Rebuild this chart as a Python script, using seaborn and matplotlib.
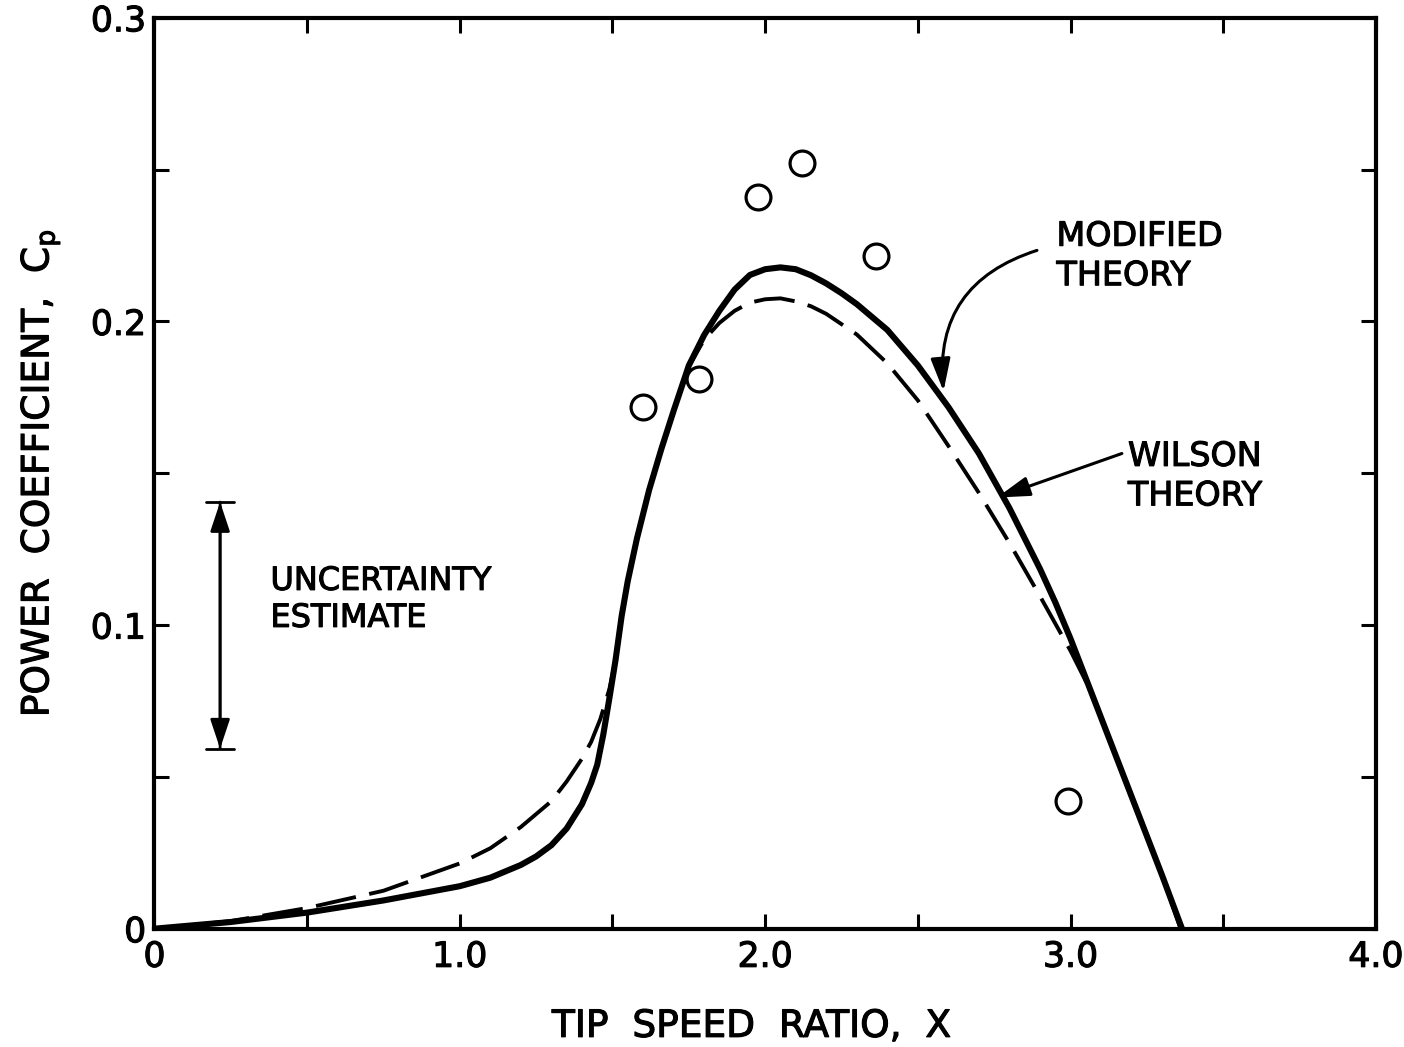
import matplotlib
matplotlib.use("Agg")
import matplotlib.pyplot as plt
import matplotlib.patheffects as pe
import seaborn as sns
import pandas as pd
from matplotlib.ticker import FixedLocator, FixedFormatter

# ---- data ----
x_modified = [0, 0.25, 0.5, 0.75, 1.0, 1.1, 1.2, 1.25, 1.3, 1.35, 1.4, 1.43, 1.45, 1.47,
              1.49, 1.51, 1.53, 1.55, 1.58, 1.62, 1.66, 1.7, 1.75, 1.8, 1.85, 1.9, 1.95,
              2.0, 2.05, 2.1, 2.15, 2.2, 2.25, 2.3, 2.4, 2.5, 2.6, 2.7, 2.8, 2.9, 2.95,
              3.0, 3.05, 3.1, 3.2, 3.3, 3.365]
cp_modified = [0, 0.0022, 0.0053, 0.0093, 0.014, 0.0168, 0.021, 0.0238, 0.0275, 0.033,
               0.041, 0.048, 0.054, 0.064, 0.076, 0.0885, 0.103, 0.1145, 0.1285, 0.1445,
               0.158, 0.1705, 0.1855, 0.1955, 0.2035, 0.2105, 0.2153, 0.2172, 0.2178,
               0.2172, 0.2152, 0.2125, 0.2093, 0.2057, 0.1972, 0.1855, 0.1718, 0.1565,
               0.1385, 0.1185, 0.1075, 0.0955, 0.0825, 0.0695, 0.0435, 0.0175, 0.0]

x_wilson = [0, 0.25, 0.5, 0.75, 1.0, 1.1, 1.2, 1.3, 1.35, 1.4, 1.43, 1.46, 1.49, 1.51,
            1.53, 1.55, 1.58, 1.62, 1.66, 1.7, 1.75, 1.8, 1.85, 1.9, 1.95, 2.0, 2.05,
            2.1, 2.15, 2.2, 2.3, 2.4, 2.5, 2.6, 2.7, 2.8, 2.9, 2.95, 3.0, 3.05, 3.1,
            3.2, 3.3, 3.36]
cp_wilson = [0, 0.0025, 0.0068, 0.0125, 0.0215, 0.0265, 0.0335, 0.042, 0.0485, 0.056,
             0.0615, 0.069, 0.079, 0.0885, 0.103, 0.1145, 0.1285, 0.1445, 0.158, 0.1705,
             0.1852, 0.194, 0.1995, 0.2035, 0.2062, 0.2073, 0.2076, 0.2066, 0.2050,
             0.2025, 0.1957, 0.1862, 0.174, 0.159, 0.1435, 0.127, 0.1095, 0.1005,
             0.0915, 0.0815, 0.0695, 0.0435, 0.0175, 0.0]

x_exp = [1.601, 1.782, 1.977, 2.119, 2.363, 2.993]
cp_exp = [0.1717, 0.181, 0.241, 0.2522, 0.2217, 0.042]

x_major = [0, 1.0, 2.0, 3.0, 4.0]
x_major_labels = ["0", "1.0", "2.0", "3.0", "4.0"]
x_minor = [0.5, 1.5, 2.5, 3.5]
y_major = [0, 0.1, 0.2, 0.3]
y_major_labels = ["0", "0.1", "0.2", "0.3"]
y_minor = [0.05, 0.15, 0.25]

unc_x = 0.215
unc_low, unc_high = 0.0593, 0.1405

# ---- figure ----
sns.set_theme(style="ticks")
plt.rcParams["font.family"] = ["DejaVu Sans"]

fig = plt.figure(figsize=(14.04, 10.47), dpi=100)
ax = fig.add_axes([0.110, 0.113, 0.870, 0.870])

df_mod = pd.DataFrame({"x": x_modified, "cp": cp_modified})
df_wil = pd.DataFrame({"x": x_wilson, "cp": cp_wilson})
df_exp = pd.DataFrame({"x": x_exp, "cp": cp_exp})

sns.lineplot(data=df_wil, x="x", y="cp", ax=ax, color="black", lw=2.8,
             linestyle=(0, (10.5, 3.5)), estimator=None, errorbar=None, sort=False)
sns.lineplot(data=df_mod, x="x", y="cp", ax=ax, color="black", lw=4.4,
             estimator=None, errorbar=None, sort=False)
sns.scatterplot(data=df_exp, x="x", y="cp", ax=ax, s=320, facecolor="white",
                edgecolor="black", linewidth=2.3, zorder=5)

ax.set_xlim(0, 4.0)
ax.set_ylim(0, 0.3)

ax.xaxis.set_major_locator(FixedLocator(x_major))
ax.xaxis.set_major_formatter(FixedFormatter(x_major_labels))
ax.xaxis.set_minor_locator(FixedLocator(x_minor))
ax.yaxis.set_major_locator(FixedLocator(y_major))
ax.yaxis.set_major_formatter(FixedFormatter(y_major_labels))
ax.yaxis.set_minor_locator(FixedLocator(y_minor))

for which in ("major", "minor"):
    ax.tick_params(axis="both", which=which, direction="in", length=11, width=2.2,
                   top=True, right=True, color="black")
ax.tick_params(axis="both", which="major", labelsize=25, labelcolor="black")
ax.tick_params(axis="x", which="major", pad=8)
ax.tick_params(axis="y", which="major", pad=6)

thick = [pe.withStroke(linewidth=0.8, foreground="black")]
for lab in ax.get_xticklabels() + ax.get_yticklabels():
    lab.set_path_effects(thick)

for sp in ax.spines.values():
    sp.set_linewidth(3.0)
    sp.set_color("black")

ax.set_xlabel("TIP  SPEED  RATIO,  X", fontsize=27, color="black",
              path_effects=thick)
ax.xaxis.set_label_coords(0.4885, -0.088)
ax.set_ylabel("POWER  COEFFICIENT,  C$_\\mathregular{p}$", fontsize=27, labelpad=20,
              color="black", path_effects=thick)

# annotations
ax.text(2.954, 0.2335, "MODIFIED\nTHEORY", fontsize=24, ha="left", va="top",
        linespacing=1.25, color="black", path_effects=thick)
ax.annotate("", xy=(2.584, 0.177), xytext=(2.89, 0.2234),
            arrowprops=dict(arrowstyle="-|>,head_length=1.0,head_width=0.3",
                            connectionstyle="arc3,rad=0.4", color="black", lw=2.2,
                            shrinkA=0, shrinkB=0, mutation_scale=20))

ax.text(3.188, 0.161, "WILSON\nTHEORY", fontsize=24, ha="left", va="top",
        linespacing=1.25, color="black", path_effects=thick)
ax.annotate("", xy=(2.759, 0.142), xytext=(3.168, 0.1565),
            arrowprops=dict(arrowstyle="-|>,head_length=1.0,head_width=0.3",
                            color="black", lw=2.2, shrinkA=0, shrinkB=0,
                            mutation_scale=20))

ax.annotate("", xy=(unc_x, unc_low), xytext=(unc_x, unc_high),
            arrowprops=dict(arrowstyle="<|-|>,head_length=0.9,head_width=0.3",
                            color="black", lw=2.0, shrinkA=0, shrinkB=0,
                            mutation_scale=20))
ax.annotate("", xy=(unc_x, unc_low), xytext=(unc_x, unc_high),
            arrowprops=dict(arrowstyle="|-|,widthA=0.5,widthB=0.5",
                            color="black", lw=2.0, shrinkA=0, shrinkB=0,
                            mutation_scale=20))
ax.text(0.38, 0.1195, "UNCERTAINTY\nESTIMATE", fontsize=23, ha="left", va="top",
        linespacing=1.25, color="black", path_effects=thick)

fig.savefig("out.png", dpi=100, facecolor="white")
